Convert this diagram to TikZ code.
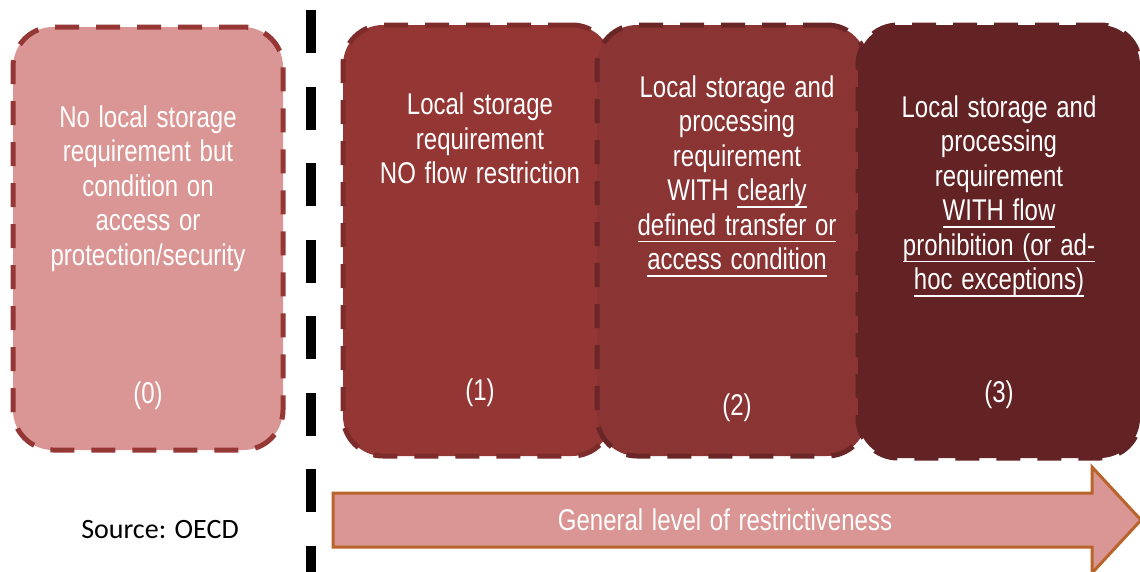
\documentclass[tikz,border=0pt]{standalone}
\usepackage{fontspec}
\setmainfont{Liberation Sans}
\newfontfamily\narrowfont[FakeStretch=0.8,WordSpace=1.3]{Liberation Sans}
\newfontfamily\srcfont{Carlito}

\definecolor{pinkfill}{HTML}{D99694}
\definecolor{pinkedge}{HTML}{953735}
\definecolor{redA}{HTML}{943634}
\definecolor{redAedge}{HTML}{7E2B2B}
\definecolor{redB}{HTML}{8A3434}
\definecolor{redBedge}{HTML}{6A2626}
\definecolor{redC}{HTML}{632223}
\definecolor{arrowedge}{HTML}{B8642A}

% underline drawn at a fixed depth below the baseline
\newcommand\ulx[1]{\setbox0\hbox{#1}\rlap{\rule[-7pt]{\wd0}{1.6pt}}\box0}

\begin{document}
\begin{tikzpicture}[x=1pt,y=-1pt,
  tier/.style={rectangle, rounded corners=40pt, line width=5pt,
    dash pattern=on 24pt off 17pt, inner sep=0pt},
  tiertext/.style={text=white, align=center, inner sep=0pt,
    font=\narrowfont\fontsize{30}{34.5}\selectfont},
]
\useasboundingbox (0,0) rectangle (1140,571);

% the four tiers, each one overlapping the previous
\node[tier, fill=pinkfill, draw=pinkedge, minimum width=270pt, minimum height=423pt] (t0) at (148,238.5) {};
\node[tier, fill=redA, draw=redAedge, minimum width=269pt, minimum height=431pt] (t1) at (477.5,240.5) {};
\node[tier, fill=redB, draw=redBedge, minimum width=270pt, minimum height=431pt] (t2) at (732,240.5) {};
\node[tier, fill=redC, draw=redC, minimum width=282pt, minimum height=433pt] (t3) at (999,241.5) {};

% tier descriptions
\node[tiertext] (t0text) at (148,188.5) {No local storage\\requirement but\\condition on\\access or\\protection/security};
\node[tiertext] (t1text) at (480,138.5) {Local storage\\requirement\\NO flow restriction};
\node[tiertext] (t2text) at (737,176) {Local storage and\\processing\\requirement\\WITH \ulx{clearly}\\\ulx{defined transfer or}\\\ulx{access condition}};
\node[tiertext] (t3text) at (999,196) {Local storage and\\processing\\requirement\\\ulx{WITH flow}\\\ulx{prohibition (or ad-}\\\ulx{hoc exceptions)}};

% tier numbers
\node[tiertext] (t0num) at (148,396) {(0)};
\node[tiertext] (t1num) at (480,393) {(1)};
\node[tiertext] (t2num) at (737,408) {(2)};
\node[tiertext] (t3num) at (999,395) {(3)};

% separator between tier 0 and the others
\coordinate (septop) at (311,10);
\coordinate (sepbot) at (311,580);
\draw[line width=10pt, dash pattern=on 43pt off 33.5pt] (septop) -- (sepbot);

% restrictiveness arrow
\draw[fill=pinkfill, draw=arrowedge, line width=3pt, line join=miter]
  (333,493) -- (1092,493) -- (1092,467) -- (1141,520) -- (1092,573)
  -- (1092,547) -- (333,547) -- cycle;
\node[text=white, font=\narrowfont\fontsize{30}{34}\selectfont] (scale) at (725,520) {General level of restrictiveness};

% source note
\node[font=\srcfont\fontsize{28}{32}\selectfont] (src) at (160,530) {Source: OECD};
\end{tikzpicture}
\end{document}
